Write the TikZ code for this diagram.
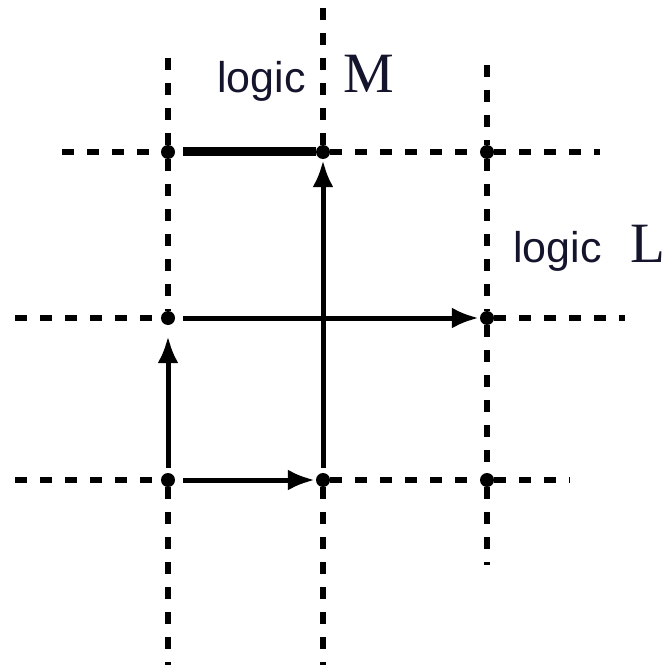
\documentclass[tikz,border=0pt]{standalone}
\usepackage{fontspec}
\setmainfont{Liberation Serif}
\newfontfamily\logicfont{Liberation Sans}
\usepackage{xcolor}
\usetikzlibrary{arrows.meta}
\usetikzlibrary{math}
\definecolor{labelnavy}{RGB}{20,20,45}

\begin{document}
\begin{tikzpicture}[x=1pt,y=-1pt,
dot/.style={circle,fill=black,inner sep=0pt,minimum size=14pt},
gridline/.style={line width=5.5pt,dash pattern=on 12pt off 13pt},
flow/.style={line width=5pt,-{Latex[length=27pt,width=21pt]},shorten <=5pt,shorten >=1pt},
logiclabel/.style={font=\logicfont\fontsize{43}{43}\selectfont,text=labelnavy,inner sep=0pt,anchor=base west},
letterlabel/.style={font=\fontsize{57}{57}\selectfont,text=labelnavy,inner sep=0pt,anchor=base west}
]
\tikzmath{
\xa=168;
\xb=323;
\xc=487;
\ya=152;
\yb=318;
\yc=480;
}
\useasboundingbox (0,0) rectangle (668,671);

\node[dot] (a1) at (\xa,\ya){};
\node[dot] (b1) at (\xb,\ya){};
\node[dot] (c1) at (\xc,\ya){};
\node[dot] (a2) at (\xa,\yb){};
\node[dot] (c2) at (\xc,\yb){};
\node[dot] (a3) at (\xa,\yc){};
\node[dot] (b3) at (\xb,\yc){};
\node[dot] (c3) at (\xc,\yc){};

\coordinate (atop) at (\xa,58);
\coordinate (btop) at (\xb,8);
\coordinate (ctop) at (\xc,65);
\coordinate (abot) at (\xa,665);
\coordinate (bbot) at (\xb,665);
\coordinate (cbot) at (\xc,565);
\coordinate (left1) at (62,\ya);
\coordinate (right1) at (600,\ya);
\coordinate (left2) at (15,\yb);
\coordinate (right2) at (625,\yb);
\coordinate (left3) at (15,\yc);
\coordinate (right3) at (570,\yc);

\draw[gridline] (atop) -- (a1);
\draw[gridline] (a1) -- (a2);
\draw[gridline] (a3) -- (abot);
\draw[gridline] (btop) -- (b1);
\draw[gridline] (b3) -- (bbot);
\draw[gridline] (ctop) -- (c1);
\draw[gridline] (c1) -- (c2);
\draw[gridline] (c2) -- (c3);
\draw[gridline] (c3) -- (cbot);
\draw[gridline] (left1) -- (a1);
\draw[gridline] (b1) -- (c1);
\draw[gridline] (c1) -- (right1);
\draw[gridline] (left2) -- (a2);
\draw[gridline] (c2) -- (right2);
\draw[gridline] (left3) -- (a3);
\draw[gridline] (b3) -- (c3);
\draw[gridline] (c3) -- (right3);

\draw[line width=9pt,shorten <=8pt] (a1) -- (b1);
\draw[flow,shorten <=8pt] (a3) -- (b3);
\draw[flow,shorten >=11pt] (a3) -- (a2);
\draw[flow,shorten <=8pt] (a2) -- (c2);
\draw[flow] (b3) -- (b1);

\node[logiclabel] (logicM) at (217,93){logic};
\node[letterlabel] (M) at (343,93){M};
\node[logiclabel] (logicL) at (513,262){logic};
\node[letterlabel] (L) at (630,262){L};
\end{tikzpicture}
\end{document}
